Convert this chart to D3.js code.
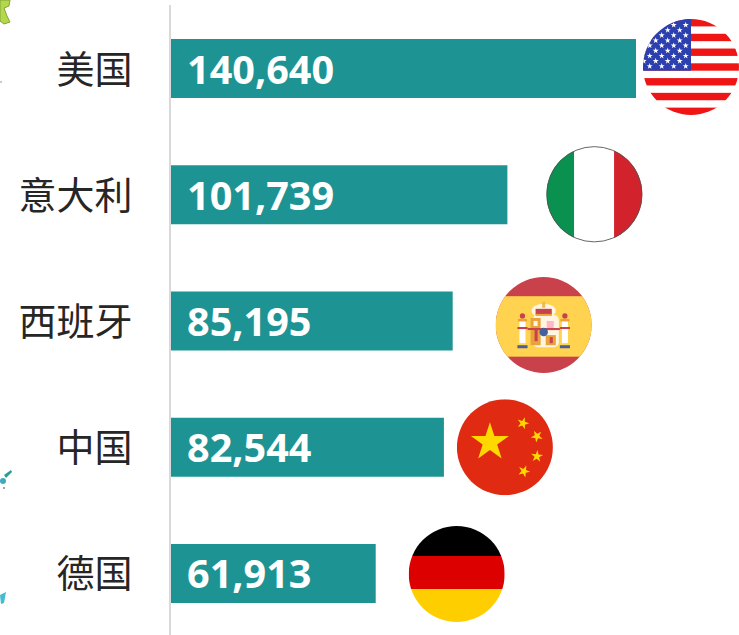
<!DOCTYPE html>
<html><head><meta charset="utf-8">
<script src="https://cdn.jsdelivr.net/npm/d3@7"></script>
<style>html,body{margin:0;padding:0;background:#fff;overflow:hidden}svg{display:block}</style>
</head><body><svg id="c" width="739" height="635"></svg>
<script>
const countries = ["美国","意大利","西班牙","中国","德国"];
const values = [140640,101739,85195,82544,61913];
const flagKeys = ["us","it","es","cn","de"];

const svg = d3.select("#c");
const x = d3.scaleLinear().domain([0,140640]).range([171,636]);
const y = d3.scaleBand().domain(countries).range([-28.25,670.25]).padding(0.5327);
const fmt = d3.format(",");
const LATIN = "'Open Sans','Noto Sans',sans-serif";
const CJK = "'Noto Sans CJK SC','Noto Sans',sans-serif";

// map fragments at the left edge of the crop
const deco = svg.append("g");
deco.append("path").attr("d","M0,0L10,0L9,6L4,8L7,16L10,22L4,24L0,21Z").attr("fill","#b5d84a").attr("stroke","#7fa63a");
deco.append("circle").attr("cx",1).attr("cy",82).attr("r",1.2).attr("fill","#ccc");
deco.append("path").attr("d","M4,475L11,470L12,472L6,478Z").attr("fill","#2a9d94");
deco.append("circle").attr("cx",3).attr("cy",481).attr("r",3).attr("fill","#3fa9bf");
deco.append("circle").attr("cx",4).attr("cy",488).attr("r",1).attr("fill","#888");
deco.append("path").attr("d","M0,595L6,592L4,603L1,604Z").attr("fill","#45bcd0");

svg.append("line").attr("x1",170).attr("x2",170).attr("y1",5).attr("y2",635).attr("stroke","#d9d9d9").attr("stroke-width",2);

svg.selectAll("rect.bar").data(values).join("rect").attr("class","bar")
  .attr("x",x(0)).attr("y",(d,i)=>y(countries[i]))
  .attr("width",d=>x(d)-x(0)).attr("height",y.bandwidth()).attr("fill","#1d9493");

svg.selectAll("text.val").data(values).join("text").attr("class","val")
  .attr("x",187).attr("y",(d,i)=>y(countries[i])+y.bandwidth()/2+15)
  .attr("fill","#fff").attr("font-family",LATIN).attr("font-weight",700).attr("font-size",39.6)
  .text(d=>fmt(d));

svg.selectAll("text.cat").data(countries).join("text").attr("class","cat")
  .attr("x",132.5).attr("y",d=>y(d)+y.bandwidth()/2+14)
  .attr("text-anchor","end").attr("fill","#262626").attr("font-family",CJK).attr("font-size",38)
  .text(d=>d);

function star(g,cx,cy,r,rot,fill){
  const pts=d3.range(10).map(i=>{const a=rot+i*Math.PI/5,rr=i%2?r*0.382:r;return [cx+rr*Math.sin(a),cy-rr*Math.cos(a)].join(",")}).join(" ");
  g.append("polygon").attr("points",pts).attr("fill",fill);
}
let clipN=0;
function flag(key,cx,cy,r){
  const id="clip"+(clipN++);
  svg.append("clipPath").attr("id",id).append("circle").attr("cx",cx).attr("cy",cy).attr("r",r);
  const g=svg.append("g").attr("clip-path",`url(#${id})`);
  const R=(x0,y0,w,h,f)=>g.append("rect").attr("x",cx+x0*r).attr("y",cy+y0*r).attr("width",w*r).attr("height",h*r).attr("fill",f);
  if(key==="us"){
    R(-1,-1,2,2,"#fff");
    d3.range(13).forEach(i=>{if(i%2==0)R(-1,-1+i*2/13,2,2/13,"#f01515")});
    R(-1,-1,1,7*2/13,"#2b3fae");
    d3.range(9).forEach(row=>{
      d3.range(7).forEach(col=>{
        const px=-5.3-col*12-(row%2?6:0), py=-42+row*5.15;
        star(g,cx+px*r/48,cy+py*r/48,3.2*r/48,0,"#fff");
      });
    });
  } else if(key==="it"){
    R(-1,-1,0.58,2,"#0a9150"); R(-0.42,-1,0.83,2,"#fff"); R(0.41,-1,0.59,2,"#d2232c");
  } else if(key==="es"){
    R(-1,-1,2,2,"#c8414b"); R(-1,-0.6,2,1.26,"#ffd250");
    const u=r/47.5;
    const P=(a,b,w,h,f)=>g.append("rect").attr("x",cx+a*u).attr("y",cy+b*u).attr("width",w*u).attr("height",h*u).attr("fill",f);
    P(-11,-10,26,32,"#fff5e0").attr("rx",5*u);
    g.append("ellipse").attr("cx",cx).attr("cy",cy-14*u).attr("rx",12*u).attr("ry",7*u).attr("fill","#fff5e0");
    P(-1.5,-23,3,6,"#f2b84b");
    [-21,21].forEach(dx=>{
      P(dx-3,-4,6,22,"#fff");
      P(dx-4.5,-6,9,2.5,"#e8a33d");
      P(dx-5,2,10,2,"#c8414b");
      P(dx-5,20,10,3,"#46609e");
      g.append("circle").attr("cx",cx+dx*u).attr("cy",cy-9*u).attr("r",2.6*u).attr("fill","#c8414b");
    });
    P(-8,-16,16,6,"#c8414b");
    P(-8,-11,16,2,"#e8a33d");
    P(-13,-7,10,27,"#e8a33d");
    P(-10,-4,4,5,"#fff5e0");
    P(-9,4,3,12,"#c8414b");
    P(3,-4,7,8,"#ffb6c8");
    P(2,10,10,10,"#e8a33d");
    P(6,12,3,6,"#c8414b");
    P(-16,3,32,2,"#c8414b");
    g.append("circle").attr("cx",cx).attr("cy",cy+7*u).attr("r",4.2*u).attr("fill","#46609e");
  } else if(key==="cn"){
    R(-1,-1,2,2,"#e02b12");
    const u=r/48,c="#ffd800";
    star(g,cx-15*u,cy-5*u,20*u,0,c);
    star(g,cx+18*u,cy-24*u,6.3*u,0.3,c);
    star(g,cx+32*u,cy-11*u,6.3*u,0.75,c);
    star(g,cx+32*u,cy+9*u,6.3*u,0.1,c);
    star(g,cx+19*u,cy+24*u,6.3*u,0.4,c);
  } else if(key==="de"){
    R(-1,-1,2,0.625,"#000"); R(-1,-0.375,2,0.69,"#dd0000"); R(-1,0.315,2,0.7,"#ffce00");
  }
  if(key==="it") svg.append("circle").attr("cx",cx).attr("cy",cy).attr("r",r-0.4).attr("fill","none").attr("stroke","#555").attr("stroke-width",0.9);
}
const flagGap = [55,87,91,61,81];
const flagDy = [-1.5,-0.5,4,0,0.5];
flagKeys.forEach((k,i)=>flag(k,x(values[i])+flagGap[i],y(countries[i])+y.bandwidth()/2+flagDy[i],48));
</script></body></html>
